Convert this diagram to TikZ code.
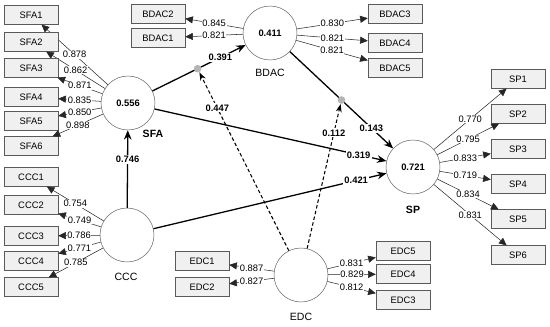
\documentclass[tikz,border=0pt]{standalone}
\usepackage{fontspec}
\setmainfont{Liberation Sans}
\usetikzlibrary{arrows.meta, positioning, calc}
\definecolor{boxfill}{HTML}{F0F0F0}
\definecolor{boxline}{HTML}{5A5A5A}
\definecolor{dotgray}{HTML}{B4B4B4}

\begin{document}
\begin{tikzpicture}[x=0.03cm, y=-0.03cm,
  ind/.style={draw=boxline, fill=boxfill, minimum width=1.62cm, minimum height=0.56cm, inner sep=0pt, font=\footnotesize},
  lv/.style={circle, draw=boxline, fill=white, minimum size=1.62cm, inner sep=0pt, font=\footnotesize\bfseries},
  load/.style={draw=black!85, line width=0.45pt, -{Triangle[length=6.5pt, width=6pt]}},
  ldval/.style={fill=white, inner sep=0.6pt, font=\footnotesize},
  struct/.style={line width=1.1pt, -{Stealth[length=8pt, width=6.5pt]}},
  coef/.style={fill=white, inner sep=1pt, font=\footnotesize\bfseries},
  modline/.style={line width=0.9pt, densely dashed, -{Stealth[open, length=7pt, width=5pt]}},
  mdot/.style={circle, fill=dotgray, minimum size=6.5pt, inner sep=0pt},
  lvname/.style={font=\small}]
  \useasboundingbox (0,0) rectangle (550,326);

  % Latent variables
  \node[lv] (sfa) at (128,103) {0.556};
  \node[lv] (bdac) at (270,33) {0.411};
  \node[lv] (sp) at (413,167) {0.721};
  \node[lv] (ccc) at (127,235) {};
  \node[lv] (edc) at (301,275) {};

  \node[lvname, font=\small\bfseries] (sfaname) at (153,134) {SFA};
  \node[lvname] (bdacname) at (270,73) {BDAC};
  \node[lvname, font=\small\bfseries] (spname) at (413,210) {SP};
  \node[lvname] (cccname) at (126,277) {CCC};
  \node[lvname] (edcname) at (301,317) {EDC};

  % SFA indicators
  \foreach \n/\y/\v in {1/15/0.878, 2/42/0.862, 3/68/0.871, 4/97/0.835, 5/121/0.850, 6/146/0.898}{
    \node[ind] (sfa\n) at (31,\y) {SFA\n};
    \draw[load] (sfa) -- node[ldval] {\v} (sfa\n);
  }

  % CCC indicators
  \foreach \n/\y/\v in {1/177/0.754, 2/205/0.749, 3/236/0.786, 4/261/0.771, 5/287/0.785}{
    \node[ind] (ccc\n) at (31,\y) {CCC\n};
    \draw[load] (ccc) -- node[ldval] {\v} (ccc\n);
  }

  % BDAC indicators
  \foreach \n/\x/\y/\v in {2/158/14/0.845, 1/158/38/0.821, 3/395/14/0.830, 4/395/43/0.821, 5/395/68/0.821}{
    \node[ind] (bdac\n) at (\x,\y) {BDAC\n};
    \draw[load] (bdac) -- node[ldval] {\v} (bdac\n);
  }

  % SP indicators
  \foreach \n/\y/\v in {1/79/0.770, 2/114/0.795, 3/149/0.833, 4/184/0.719, 5/219/0.834, 6/255/0.831}{
    \node[ind] (sp\n) at (518,\y) {SP\n};
    \draw[load] (sp) -- node[ldval] {\v} (sp\n);
  }

  % EDC indicators
  \foreach \n/\x/\y/\v in {1/202/261/0.887, 2/202/287/0.827, 5/403/251/0.831, 4/403/274/0.829, 3/403/300/0.812}{
    \node[ind] (edc\n) at (\x,\y) {EDC\n};
    \draw[load] (edc) -- node[ldval] {\v} (edc\n);
  }

  % Structural paths
  \draw[struct] (ccc) -- node[coef, pos=0.62] {0.746} (sfa);
  \draw[struct] (sfa) -- node[coef, pos=0.73] {0.391} (bdac);
  \draw[struct] (sfa) -- node[coef, pos=0.88] {0.319} (sp);
  \draw[struct] (ccc) -- node[coef, pos=0.87] {0.421} (sp);
  \draw[struct] (bdac) -- node[coef, pos=0.79] {0.143} (sp);

  % Moderating effects
  \node[mdot] (mod1) at ($(sfa)!0.49!(bdac)$) {};
  \node[mdot] (mod2) at ($(bdac)!0.5!(sp)$) {};
  \draw[modline] (edc) -- node[coef, pos=0.8] {0.447} (mod1);
  \draw[modline] (edc) -- node[coef, pos=0.8] {0.112} (mod2);
\end{tikzpicture}
\end{document}
